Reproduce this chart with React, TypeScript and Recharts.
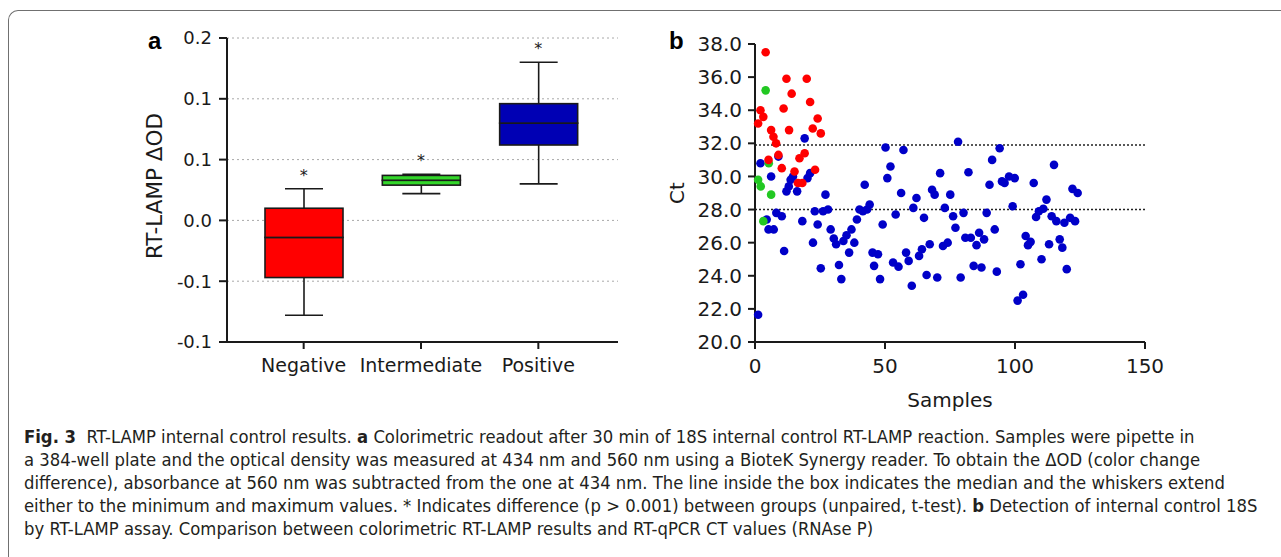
import React from "react";
import {
  Bar,
  ComposedChart,
  Scatter,
  ScatterChart,
  XAxis,
  YAxis,
  CartesianGrid,
  ReferenceLine,
} from "recharts";

// panel a: RT-LAMP ΔOD per group (box and whiskers)
const groups = ["Negative", "Intermediate", "Positive"];
const groupMin = [-0.078, 0.022, 0.03];
const groupQ1 = [-0.047, 0.029, 0.062];
const groupMedian = [-0.014, 0.033, 0.08];
const groupQ3 = [0.01, 0.037, 0.096];
const groupMax = [0.026, 0.038, 0.13];
const groupStar = [0.04, 0.052, 0.144];
const groupColors = ["#ff0000", "#33d62a", "#0000b4"];

const odTicks = [-0.1, -0.05, 0, 0.05, 0.1, 0.15];
const odTickLabels = ["-0.1", "-0.1", "0.0", "0.1", "0.1", "0.2"];

// panel b: Ct per sample, [sample, Ct]
const negativeCt: [number, number][] = [
  [4.1, 37.5], [12.1, 35.9], [19.9, 35.9], [14.1, 35.0], [21.2, 34.5], [2.1, 34.0],
  [11.0, 34.1], [3.2, 33.6], [1.2, 33.2], [24.1, 33.5], [22.2, 32.9], [25.3, 32.6],
  [6.2, 32.8], [13.1, 32.8], [7.1, 32.4], [8.1, 32.0], [19.1, 31.4], [9.0, 31.3],
  [17.1, 31.1], [5.2, 31.0], [10.3, 30.5], [23.1, 30.4], [15.2, 30.3], [16.5, 29.6],
  [18.2, 29.6],
];
const intermediateCt: [number, number][] = [
  [4.1, 35.2], [5.3, 30.8], [1.2, 29.8], [2.2, 29.4], [6.2, 28.9], [3.2, 27.3],
];
const positiveCt: [number, number][] = [
  [19.1, 32.3], [2.1, 30.8], [9.0, 31.2], [6.2, 30.0], [21.2, 30.2], [20.2, 29.9],
  [14.6, 30.0], [13.7, 29.8], [13.0, 29.4], [12.1, 29.1], [16.2, 29.1], [27.1, 28.9],
  [42.2, 29.5], [8.2, 27.8], [10.3, 27.6], [4.5, 27.4], [5.2, 26.8], [7.2, 26.8],
  [18.2, 27.3], [23.0, 27.9], [26.2, 27.9], [28.1, 28.0], [24.1, 27.1], [29.1, 26.8],
  [30.3, 26.25], [31.2, 25.9], [22.3, 26.0], [11.2, 25.5], [25.3, 24.45], [32.3, 24.65],
  [33.2, 23.8], [34.0, 26.1], [35.2, 26.45], [37.1, 26.8], [39.2, 27.4], [40.2, 28.0],
  [41.5, 27.9], [43.1, 28.0], [44.1, 28.3], [38.2, 26.0], [36.2, 25.4], [45.2, 25.4],
  [45.8, 24.6], [1.2, 21.65],
  [50.2, 31.75], [57.1, 31.6], [78.1, 32.1], [94.1, 31.7], [52.1, 30.6], [50.9, 29.9],
  [71.2, 30.2], [82.1, 30.25], [91.2, 31.0], [90.2, 29.5], [56.2, 29.0], [62.1, 28.7],
  [68.1, 29.2], [69.1, 28.9], [75.1, 28.9], [60.9, 28.1], [73.0, 28.1], [54.1, 27.7],
  [65.0, 27.5], [76.2, 27.6], [80.2, 27.8], [89.1, 27.8], [49.1, 27.1], [77.1, 26.9],
  [92.2, 26.8], [80.9, 26.3], [83.0, 26.3], [86.2, 26.6], [88.1, 26.2], [85.2, 25.85],
  [67.2, 25.9], [64.2, 25.6], [72.3, 25.8], [74.1, 26.0], [47.3, 25.3], [58.1, 25.4],
  [63.1, 25.2], [53.1, 24.8], [55.2, 24.55], [59.1, 24.9], [84.1, 24.6], [87.1, 24.5],
  [93.0, 24.25], [48.1, 23.8], [66.0, 24.05], [70.1, 23.9], [79.1, 23.9], [60.3, 23.4],
  [115.0, 30.7], [95.0, 29.7], [96.0, 29.6], [97.7, 30.0], [99.9, 29.9], [107.2, 29.6],
  [122.1, 29.25], [124.1, 29.0], [112.1, 28.6], [99.1, 28.2], [110.9, 28.05], [109.2, 27.9],
  [108.1, 27.55], [114.1, 27.6], [115.9, 27.3], [119.0, 27.2], [121.2, 27.5], [123.1, 27.3],
  [104.1, 26.4], [106.0, 26.05], [105.0, 25.85], [117.2, 26.2], [113.1, 25.9], [118.2, 25.7],
  [110.2, 25.0], [102.1, 24.7], [119.9, 24.4], [103.1, 22.85], [101.0, 22.5],
];
const ctTicks = [20, 22, 24, 26, 28, 30, 32, 34, 36, 38];
const sampleTicks = [0, 50, 100, 150];
const ctCutoffs = [31.9, 28.0];

const boxRows = groups.map((g, i) => ({
  group: g,
  base: groupMin[i],
  lowWhisker: groupQ1[i] - groupMin[i],
  lowBox: groupMedian[i] - groupQ1[i],
  highBox: groupQ3[i] - groupMedian[i],
  highWhisker: groupMax[i] - groupQ3[i],
  star: groupStar[i],
  color: groupColors[i],
}));

const toPoints = (rows: [number, number][]) => rows.map(([x, ct]) => ({ x, ct }));

const FONT = "'DejaVu Sans', sans-serif";
const INK = "#1a1a1a";

const norm = (p: any) => {
  const top = Math.min(p.y, p.y + p.height);
  return { top, h: Math.abs(p.height), cx: p.x + p.width / 2 };
};

const whisker = (capAtTop: boolean) => (p: any) => {
  const { top, h, cx } = norm(p);
  const capY = capAtTop ? top : top + h;
  return (
    <g>
      <line x1={cx} x2={cx} y1={top} y2={top + h} stroke={INK} strokeWidth={1.6} />
      <line x1={cx - 19} x2={cx + 19} y1={capY} y2={capY} stroke={INK} strokeWidth={1.6} />
    </g>
  );
};

const boxPart = (p: any) => {
  const { top, h } = norm(p);
  return (
    <rect x={p.x} y={top} width={p.width} height={h} fill={p.payload.color} stroke={INK} strokeWidth={1.6} />
  );
};

const starShape = (p: any) => (
  <text x={p.cx} y={p.cy + 9} textAnchor="middle" fontSize={16} fill={INK} fontFamily={FONT}>
    *
  </text>
);

const dot = (color: string) => (p: any) => <circle cx={p.cx} cy={p.cy} r={4.3} fill={color} />;

const axisLine = { stroke: INK, strokeWidth: 2 };

const letterStyle: React.CSSProperties = {
  position: "absolute",
  fontSize: 24,
  fontWeight: "bold",
  color: "#000",
  fontFamily: "'Liberation Sans', Arial, sans-serif",
};

export default function App() {
  return (
    <div
      style={{
        position: "absolute",
        left: 0,
        top: 0,
        width: 1281,
        height: 557,
        overflow: "hidden",
        background: "#fff",
        fontFamily: FONT,
      }}
    >
      <div
        style={{
          position: "absolute",
          left: 8,
          top: 10,
          width: 1400,
          height: 700,
          borderTop: "1.5px solid #707070",
          borderLeft: "1.5px solid #707070",
          borderTopLeftRadius: 10,
        }}
      />

      <div style={{ ...letterStyle, left: 148, top: 27 }}>a</div>
      <div style={{ ...letterStyle, left: 669, top: 27 }}>b</div>

      <div style={{ position: "absolute", left: 130, top: 20 }}>
        <ComposedChart width={500} height={380} data={boxRows} margin={{ top: 18, right: 12, bottom: 13, left: 27 }}>
          <CartesianGrid vertical={false} stroke="#a8a8a8" strokeDasharray="2 3" />
          <XAxis
            dataKey="group"
            padding={{ left: 18, right: 21 }}
            height={45}
            tickSize={7}
            tickMargin={10}
            axisLine={axisLine}
            tickLine={axisLine}
            tick={{ fill: INK, fontSize: 19, fontFamily: FONT }}
            interval={0}
          />
          <YAxis
            type="number"
            domain={[-0.1, 0.15]}
            ticks={odTicks}
            tickFormatter={(v: number, i: number) => odTickLabels[i]}
            width={70}
            tickSize={8}
            tickMargin={7}
            axisLine={axisLine}
            tickLine={axisLine}
            tick={{ fill: INK, fontSize: 18, fontFamily: FONT }}
            label={{
              value: "RT-LAMP ΔOD",
              angle: -90,
              position: "insideLeft",
              offset: -3,
              dy: -4,
              style: { textAnchor: "middle", fill: INK, fontSize: 21.5, fontFamily: FONT },
            }}
          />
          <Bar dataKey="base" stackId="box" barSize={78} fill="none" shape={() => <g />} isAnimationActive={false} />
          <Bar dataKey="lowWhisker" stackId="box" barSize={78} shape={whisker(false)} isAnimationActive={false} />
          <Bar dataKey="lowBox" stackId="box" barSize={78} shape={boxPart} isAnimationActive={false} />
          <Bar dataKey="highBox" stackId="box" barSize={78} shape={boxPart} isAnimationActive={false} />
          <Bar dataKey="highWhisker" stackId="box" barSize={78} shape={whisker(true)} isAnimationActive={false} />
          <Scatter dataKey="star" shape={starShape} isAnimationActive={false} />
        </ComposedChart>
      </div>

      <div style={{ position: "absolute", left: 650, top: 25 }}>
        <ScatterChart width={540} height={400} margin={{ top: 19, right: 45, bottom: 13, left: 35 }}>
          <XAxis
            type="number"
            dataKey="x"
            domain={[0, 150]}
            ticks={sampleTicks}
            height={70}
            tickSize={7}
            tickMargin={10}
            axisLine={axisLine}
            tickLine={axisLine}
            tick={{ fill: INK, fontSize: 20, fontFamily: FONT }}
            label={{ value: "Samples", position: "insideBottom", offset: 5, style: { fill: INK, fontSize: 20, fontFamily: FONT } }}
          />
          <YAxis
            type="number"
            dataKey="ct"
            domain={[20, 38]}
            ticks={ctTicks}
            tickFormatter={(v: number) => v.toFixed(1)}
            width={70}
            tickSize={7}
            tickMargin={6}
            axisLine={axisLine}
            tickLine={axisLine}
            tick={{ fill: INK, fontSize: 20, fontFamily: FONT }}
            label={{
              value: "Ct",
              angle: -90,
              position: "insideLeft",
              offset: -8,
              style: { textAnchor: "middle", fill: INK, fontSize: 20, fontFamily: FONT },
            }}
          />
          {ctCutoffs.map((c) => (
            <ReferenceLine key={c} y={c} stroke="#222" strokeWidth={1.6} strokeDasharray="2 2" />
          ))}
          <Scatter data={toPoints(positiveCt)} shape={dot("#0000c8")} isAnimationActive={false} />
          <Scatter data={toPoints(intermediateCt)} shape={dot("#22c822")} isAnimationActive={false} />
          <Scatter data={toPoints(negativeCt)} shape={dot("#ff0000")} isAnimationActive={false} />
        </ScatterChart>
      </div>

      <div
        style={{
          position: "absolute",
          left: 24,
          top: 425,
          fontFamily: "'DejaVu Sans Condensed', 'Liberation Sans Narrow', sans-serif",
          fontStretch: "condensed",
          fontSize: 18.3,
          lineHeight: "23px",
          color: "#231f20",
          whiteSpace: "nowrap",
        }}
      >
        <div><b>Fig. 3</b>&nbsp; RT-LAMP internal control results. <b>a</b> Colorimetric readout after 30 min of 18S internal control RT-LAMP reaction. Samples were pipette in</div>
        <div>a 384-well plate and the optical density was measured at 434 nm and 560 nm using a BioteK Synergy reader. To obtain the ΔOD (color change</div>
        <div>difference), absorbance at 560 nm was subtracted from the one at 434 nm. The line inside the box indicates the median and the whiskers extend</div>
        <div>either to the minimum and maximum values. * Indicates difference (p &gt; 0.001) between groups (unpaired, t-test). <b>b</b> Detection of internal control 18S</div>
        <div>by RT-LAMP assay. Comparison between colorimetric RT-LAMP results and RT-qPCR CT values (RNAse P)</div>
      </div>
    </div>
  );
}
